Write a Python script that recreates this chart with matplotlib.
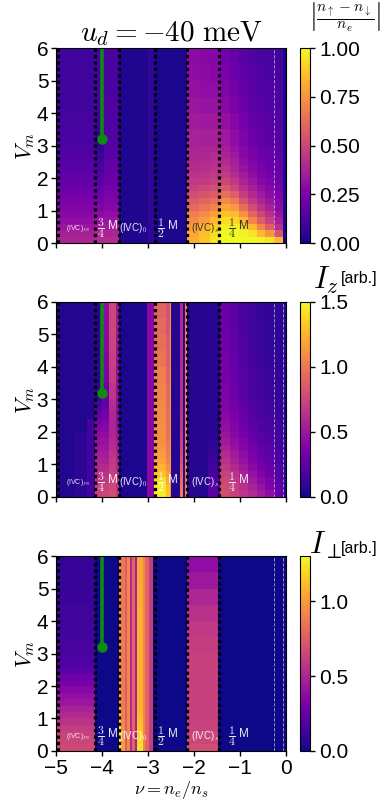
import matplotlib.pyplot as plt
import numpy as np

plt.rcParams['font.family'] = ['Liberation Sans', 'DejaVu Sans']
plt.rcParams['mathtext.fontset'] = 'cm'

# Vm rows (fine at the bottom, coarser at the top)
vm_edges = [0.0, 0.2, 0.4, 0.6, 0.8, 1.0, 1.2, 1.4, 1.6, 1.8, 2.0, 2.2, 2.4, 2.6,
            2.8, 3.0, 3.5, 4.0, 4.5, 5.0, 5.5, 6.0]

# phase boundaries (dotted) and the two dashed markers near nu = 0
phase_lines = [-4.96, -4.16, -3.62, -2.85, -2.15, -1.45]
dashed_lines = [-0.27, -0.07]

# green path at nu = -4
path_nu = [-4.0, -4.0]
path_vm = [6.0, 3.2]

# panel 1: |n_up - n_down| / n_e, columns listed bottom -> top
pol_edges = [-5.0, -4.16, -3.95, -3.62, -3.0, -2.86, -2.15, -1.9, -1.65, -1.44,
             -1.22, -1.02, -0.82, -0.62, -0.45, -0.27, -0.07, 0.0]
pol_cols = [
    [0.38, 0.36, 0.33, 0.30, 0.28, 0.26, 0.24, 0.22, 0.20, 0.18, 0.17, 0.16, 0.15, 0.14, 0.13, 0.12, 0.11, 0.10, 0.10, 0.09, 0.09],
    [0.40, 0.38, 0.35, 0.32, 0.29, 0.26, 0.23, 0.20, 0.18, 0.16, 0.14, 0.12, 0.10, 0.08, 0.07, 0.06, 0.08, 0.09, 0.10, 0.10, 0.10],
    [0.40, 0.38, 0.36, 0.33, 0.30, 0.28, 0.26, 0.24, 0.22, 0.20, 0.19, 0.18, 0.17, 0.16, 0.15, 0.14, 0.13, 0.13, 0.12, 0.12, 0.12],
    [0.03] * 21,
    [0.07] * 21,
    [0.02] * 21,
    [0.82, 0.80, 0.76, 0.72, 0.68, 0.62, 0.57, 0.52, 0.48, 0.45, 0.43, 0.41, 0.40, 0.39, 0.38, 0.37, 0.35, 0.33, 0.31, 0.30, 0.29],
    [0.88, 0.86, 0.83, 0.78, 0.72, 0.66, 0.60, 0.55, 0.50, 0.46, 0.44, 0.42, 0.40, 0.39, 0.38, 0.36, 0.34, 0.32, 0.30, 0.29, 0.28],
    [0.95, 0.93, 0.90, 0.85, 0.78, 0.70, 0.63, 0.57, 0.52, 0.48, 0.45, 0.43, 0.41, 0.40, 0.38, 0.36, 0.34, 0.32, 0.30, 0.28, 0.27],
    [1.00, 1.00, 0.97, 0.93, 0.87, 0.80, 0.72, 0.63, 0.56, 0.50, 0.46, 0.43, 0.40, 0.38, 0.36, 0.34, 0.31, 0.28, 0.26, 0.24, 0.22],
    [1.00, 1.00, 0.97, 0.92, 0.85, 0.76, 0.67, 0.58, 0.50, 0.45, 0.41, 0.38, 0.36, 0.34, 0.32, 0.30, 0.27, 0.24, 0.22, 0.20, 0.19],
    [1.00, 0.98, 0.93, 0.84, 0.74, 0.63, 0.54, 0.47, 0.42, 0.38, 0.35, 0.32, 0.30, 0.28, 0.27, 0.25, 0.23, 0.21, 0.19, 0.17, 0.16],
    [1.00, 0.95, 0.85, 0.70, 0.60, 0.52, 0.45, 0.40, 0.36, 0.33, 0.30, 0.28, 0.26, 0.24, 0.23, 0.21, 0.19, 0.17, 0.16, 0.15, 0.14],
    [0.98, 0.85, 0.70, 0.58, 0.50, 0.43, 0.38, 0.34, 0.31, 0.28, 0.26, 0.24, 0.22, 0.21, 0.20, 0.18, 0.17, 0.15, 0.14, 0.13, 0.12],
    [0.95, 0.75, 0.58, 0.48, 0.42, 0.37, 0.33, 0.30, 0.27, 0.25, 0.23, 0.21, 0.20, 0.19, 0.18, 0.16, 0.15, 0.14, 0.13, 0.12, 0.11],
    [0.85, 0.55, 0.42, 0.36, 0.32, 0.29, 0.27, 0.25, 0.23, 0.21, 0.20, 0.19, 0.18, 0.17, 0.16, 0.15, 0.14, 0.13, 0.12, 0.11, 0.10],
    [0.02] * 21,
]

# panel 2: I_z
iz_edges = [-5.0, -4.6, -4.32, -4.16, -4.0, -3.85, -3.7, -3.62, -3.02, -2.88, -2.6,
            -2.52, -2.49, -2.30, -2.24, -2.2, -2.15, -1.7, -1.44, -1.22, -1.02, -0.82,
            -0.62, -0.45, -0.27, -0.07, 0.0]
iz_cols = [
    [0.05] * 21,
    [0.08] * 10 + [0.05] * 11,
    [0.16] * 12 + [0.06] * 9,
    [0.72, 0.69, 0.66, 0.63, 0.60, 0.57, 0.54, 0.50, 0.47, 0.44, 0.40, 0.35, 0.28, 0.20, 0.14, 0.08, 0.06, 0.06, 0.06, 0.06, 0.06],
    [0.75, 0.72, 0.68, 0.64, 0.60, 0.56, 0.53, 0.50, 0.47, 0.45, 0.42, 0.38, 0.33, 0.30, 0.28, 0.30, 0.36, 0.40, 0.42, 0.43, 0.44],
    [0.78, 0.76, 0.74, 0.72, 0.70, 0.68, 0.66, 0.63, 0.60, 0.58, 0.57, 0.57, 0.58, 0.60, 0.62, 0.66, 0.70, 0.72, 0.74, 0.75, 0.75],
    [0.68, 0.66, 0.64, 0.62, 0.60, 0.58, 0.56, 0.54, 0.52, 0.50, 0.48, 0.46, 0.45, 0.45, 0.45, 0.46, 0.47, 0.48, 0.49, 0.50, 0.50],
    [0.04] * 21,
    [0.42] * 21,
    [1.47, 1.45, 1.40, 1.30, 1.25, 1.18, 1.15, 1.13, 1.10, 1.10, 1.10, 1.09, 1.08, 1.08, 1.07, 1.05, 1.02, 0.98, 0.95, 0.92, 0.90],
    [1.30, 1.28, 1.22, 1.15, 1.10, 1.05, 1.02, 1.00, 0.98, 0.97, 0.96, 0.95, 0.95, 0.94, 0.93, 0.92, 0.90, 0.87, 0.85, 0.82, 0.80],
    [1.15] * 21,
    [0.06] * 21,
    [1.05, 1.00, 0.95, 0.90, 0.85, 0.80, 0.77, 0.75, 0.72, 0.70, 0.68, 0.67, 0.66, 0.65, 0.64, 0.63, 0.62, 0.61, 0.60, 0.60, 0.60],
    [0.08] * 21,
    [1.05] * 21,
    [0.06] * 21,
    [0.25, 0.22, 0.20, 0.17, 0.15, 0.13, 0.11, 0.10, 0.09, 0.08] + [0.07] * 11,
    [0.78, 0.77, 0.75, 0.72, 0.68, 0.64, 0.60, 0.56, 0.52, 0.49, 0.46, 0.44, 0.42, 0.40, 0.39, 0.37, 0.35, 0.34, 0.32, 0.31, 0.30],
    [0.72, 0.70, 0.68, 0.64, 0.60, 0.56, 0.52, 0.48, 0.45, 0.42, 0.40, 0.38, 0.36, 0.34, 0.33, 0.31, 0.29, 0.27, 0.26, 0.25, 0.24],
    [0.66, 0.63, 0.60, 0.56, 0.52, 0.48, 0.44, 0.41, 0.38, 0.35, 0.33, 0.31, 0.29, 0.27, 0.26, 0.24, 0.22, 0.21, 0.20, 0.19, 0.18],
    [0.60, 0.56, 0.52, 0.47, 0.43, 0.39, 0.36, 0.33, 0.30, 0.28, 0.26, 0.24, 0.22, 0.21, 0.20, 0.18, 0.17, 0.16, 0.15, 0.14, 0.14],
    [0.52, 0.48, 0.43, 0.39, 0.35, 0.32, 0.29, 0.27, 0.25, 0.23, 0.21, 0.20, 0.19, 0.18, 0.17, 0.15, 0.14, 0.13, 0.12, 0.12, 0.11],
    [0.45, 0.40, 0.36, 0.32, 0.29, 0.27, 0.25, 0.23, 0.21, 0.20, 0.18, 0.17, 0.16, 0.15, 0.14, 0.13, 0.12, 0.11, 0.10, 0.10, 0.10],
    [0.30, 0.27, 0.24, 0.22, 0.20, 0.19, 0.18, 0.17, 0.16, 0.15, 0.14, 0.13, 0.12, 0.12, 0.11, 0.10, 0.10, 0.09, 0.09, 0.09, 0.09],
    [0.05] * 21,
]

# panel 3: I_perp
ip_edges = [-5.0, -4.16, -3.62, -3.58, -3.51, -3.45, -3.40, -3.35, -3.28, -3.24,
            -3.11, -3.06, -2.98, -2.89, -2.15, -1.48, 0.0]
ip_cols = [
    [0.66, 0.64, 0.62, 0.60, 0.56, 0.52, 0.48, 0.43, 0.40, 0.36, 0.30, 0.26, 0.20, 0.17, 0.16, 0.15, 0.13, 0.12, 0.11, 0.10, 0.10],
    [0.0] * 21,
    [1.28, 1.27, 1.25, 1.22, 1.18, 1.12, 1.08, 1.05, 1.02, 1.00, 0.99, 0.98, 0.98, 0.97, 0.97, 0.96, 0.96, 0.95, 0.95, 0.95, 0.94],
    [1.00, 0.98, 0.96, 0.94, 0.92, 0.90, 0.89, 0.88, 0.88, 0.88, 0.88, 0.88, 0.88, 0.88, 0.88, 0.88, 0.88, 0.87, 0.87, 0.86, 0.86],
    [0.75] * 21,
    [0.92] * 21,
    [0.52] * 21,
    [0.78] * 21,
    [0.48] * 21,
    [1.22, 1.20, 1.18, 1.15, 1.12, 1.10, 1.08, 1.08, 1.08, 1.08, 1.08, 1.08, 1.08, 1.08, 1.08, 1.08, 1.07, 1.07, 1.06, 1.05, 1.05],
    [0.92] * 21,
    [0.78] * 21,
    [0.60] * 21,
    [0.0] * 21,
    [0.68, 0.65, 0.64, 0.63, 0.62, 0.62, 0.62, 0.62, 0.62, 0.62, 0.62, 0.62, 0.62, 0.62, 0.62, 0.61, 0.58, 0.55, 0.50, 0.44, 0.39],
    [0.0] * 21,
]

# region labels: (text, nu position)
region_labels = [
    (r'(IVC)$_{PS}$', -4.52),
    (r'$\dfrac{3}{4}$ M', -3.88),
    (r'(IVC)$_0$', -3.33),
    (r'$\dfrac{1}{2}$ M', -2.58),
    (r'(IVC)$_s$', -1.76),
    (r'$\dfrac{1}{4}$ M', -1.02),
]

panels = [
    (pol_edges, pol_cols, 1.0, [0.0, 0.25, 0.5, 0.75, 1.0], '{:.2f}'),
    (iz_edges, iz_cols, 1.5, [0.0, 0.5, 1.0, 1.5], '{:.1f}'),
    (ip_edges, ip_cols, 1.3, [0.0, 0.5, 1.0], '{:.1f}'),
]
bottoms = [0.6996, 0.3857, 0.0717]

fig = plt.figure(figsize=(3.9, 8.09), dpi=100)

for i, (edges, cols, vmax, cticks, fmt) in enumerate(panels):
    ax = fig.add_axes([0.1436, bottoms[i], 0.5897, 0.2410])
    cax = fig.add_axes([0.769, bottoms[i], 0.027, 0.2410])

    data = np.array(cols).T  # shape: (rows, columns)
    mesh = ax.pcolormesh(edges, vm_edges, data, cmap='plasma', vmin=0, vmax=vmax)

    for x in phase_lines:
        ax.axvline(x, color='k', ls=(0, (1, 1)), lw=2.3)
    for x in (dashed_lines[:1] if i == 0 else dashed_lines):
        ax.axvline(x, color='#d8c8f0', ls=(0, (4, 2)), lw=0.6, alpha=0.8)

    ax.plot(path_nu, path_vm, color='#108a10', lw=2.6, solid_capstyle='butt')
    ax.plot(path_nu[-1], path_vm[-1], 'o', color='#108a10', ms=6.5)

    for j, (txt, xpos) in enumerate(region_labels):
        color = '#222222' if (i == 0 and j >= 4) else 'white'
        fs = 5 if j == 0 else (7 if j in (2, 4) else 8.5)
        ax.text(xpos, 0.45, txt, color=color, fontsize=fs, ha='center', va='center', alpha=0.9)

    ax.set_xlim(-5, 0)
    ax.set_ylim(0, 6)
    ax.set_xticks([-5, -4, -3, -2, -1, 0])
    ax.set_yticks([0, 1, 2, 3, 4, 5, 6])
    ax.tick_params(labelsize=15, length=3.5, width=1, pad=2)
    if i < 2:
        ax.set_xticklabels([])
    else:
        ax.set_xticklabels(['\u22125', '\u22124', '\u22123', '\u22122', '\u22121', '0'])
        ax.set_xlabel(r'$\nu = n_e/n_s$', fontsize=13, labelpad=1)
    ax.set_ylabel(r'$V_m$', fontsize=16, labelpad=0)

    cb = fig.colorbar(mesh, cax=cax, ticks=cticks)
    cb.ax.set_yticklabels([fmt.format(t) for t in cticks])
    cb.ax.tick_params(labelsize=15, length=3.5, width=1, pad=3)
    cb.outline.set_linewidth(0.8)

    if i == 0:
        ax.set_title(r'$u_d = -40\ \mathrm{meV}$', fontsize=21, pad=5)

fig.text(0.885, 0.978, r'$\left|\dfrac{n_\uparrow - n_\downarrow}{n_e}\right|$',
         fontsize=11, ha='center', va='center')
fig.text(0.835, 0.654, r'$I_z$', fontsize=22, ha='center', va='center')
fig.text(0.92, 0.656, '[arb.]', fontsize=11.5, ha='center', va='center')
fig.text(0.835, 0.326, r'$I_\perp$', fontsize=22, ha='center', va='center')
fig.text(0.92, 0.322, '[arb.]', fontsize=11.5, ha='center', va='center')

fig.savefig('out.png', dpi=100)
plt.close(fig)
